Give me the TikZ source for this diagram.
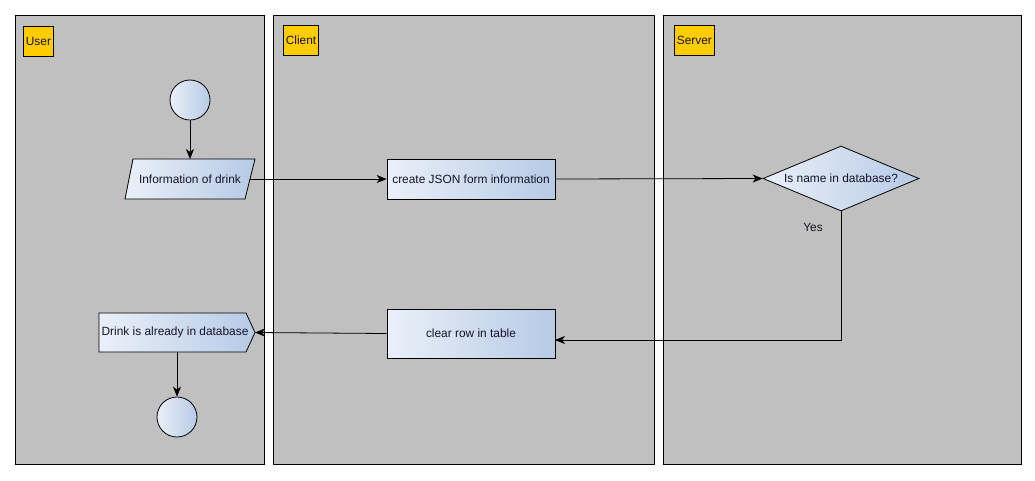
\documentclass[tikz,border=0pt]{standalone}
\usepackage{fontspec}
\setmainfont{Liberation Sans}
\usetikzlibrary{shapes.geometric,arrows.meta}
\definecolor{lanegray}{RGB}{192,192,192}
\definecolor{labelyellow}{RGB}{255,204,0}
\definecolor{gradL}{RGB}{234,240,248}
\definecolor{gradR}{RGB}{182,202,230}
\definecolor{txt}{RGB}{20,20,40}
\tikzset{
  x=1pt, y=-1pt,
  every node/.style={font=\fontsize{11.9}{13}\selectfont, text=txt},
  lane/.style={draw=black, fill=lanegray, line width=0.8pt},
  lanelabel/.style={draw=black, fill=labelyellow, anchor=north west, minimum height=30pt, inner sep=2.5pt, line width=0.7pt},
  grad/.style={draw=black, line width=0.8pt, left color=gradL, right color=gradR},
  termcirc/.style={grad, circle, minimum size=40pt, inner sep=0pt},
  procbox/.style={grad, rectangle, inner sep=0pt},
  flow/.style={draw=black, line width=0.8pt, -{Stealth[length=10pt,width=8pt,inset=3pt]}},
  conn/.style={draw=black, line width=0.8pt}
}
\begin{document}
\begin{tikzpicture}
\useasboundingbox (0,0) rectangle (1035,480);
% lanes
\path[lane] (15,15) rectangle (264,464);
\path[lane] (273,15) rectangle (654,464);
\path[lane] (663,15) rectangle (1021,464);
\node[lanelabel] (luser) at (23,26) {User};
\node[lanelabel] (lclient) at (283,25) {Client};
\node[lanelabel] (lserver) at (674,25) {Server};
% start
\node[termcirc] (start) at (190,100) {};
% parallelogram "Information of drink"
\path[grad] (133,159) -- (255,159) -- (245,199) -- (125,199) -- cycle;
\node[inner sep=0pt] (info) at (190,179) {Information of drink};
\coordinate (infotop) at (190,159);
\coordinate (inforight) at (250,179);
% process boxes
\node[procbox, minimum width=168pt, minimum height=40pt] (json) at (471,179) {create JSON form information};
\node[grad, diamond, aspect=2.4, minimum width=156pt, minimum height=65pt, inner sep=0pt] (dec) at (841,178.5) {Is name in database?};
\node[procbox, minimum width=168pt, minimum height=49pt] (clear) at (471,333.5) {clear row in table};
% signal-like shape for "Drink is already in database"
\path[grad] (99,313) -- (246,313) -- (255,332.5) -- (246,352) -- (99,352) -- cycle;
\node[inner sep=0pt] (drink) at (175,332.5) {Drink is already in database};
\coordinate (drinktip) at (255,332.5);
\coordinate (drinkbot) at (177,352);
\node[termcirc] (stop) at (177,417) {};
\node[inner sep=0pt] (yes) at (813,227) {Yes};
\coordinate (bend) at (841,340);
\coordinate (clearin) at (555,340);
% connectors
\path[flow] (start) -- (infotop);
\path[flow] (inforight) -- (json.west);
\path[flow] (json.east) -- (dec.west);
\path[conn] (dec.south) -- (bend) -- (clearin);
\path[flow] (bend) -- (clearin);
\path[flow] (clear.west) -- (drinktip);
\path[flow] (drinkbot) -- (stop);
\end{tikzpicture}
\end{document}
